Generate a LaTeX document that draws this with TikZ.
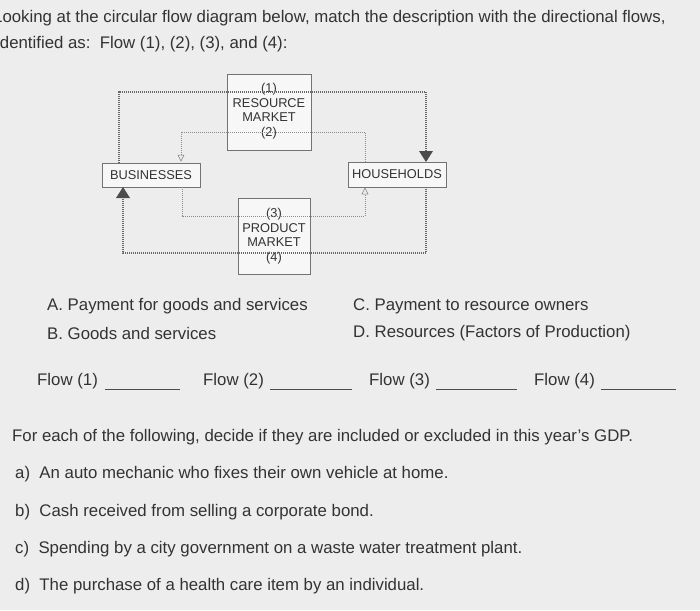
\documentclass[tikz,border=0pt]{standalone}
\usepackage{fontspec}
\setmainfont{Liberation Sans}
\usetikzlibrary{arrows.meta}
\begin{document}
\begin{tikzpicture}[x=1pt,y=-1pt,
  txt/.style={anchor=west,inner sep=0pt,text=black!80,font=\fontsize{16.8}{19}\selectfont},
  box/.style={draw=black!55,fill=black!3,inner sep=0pt,line width=0.6pt},
  lab/.style={font=\fontsize{12.8}{14.5}\selectfont,text=black!80,inner sep=0pt},
  outer/.style={draw=black!60,line width=1.2pt,dash pattern=on 1pt off 1pt},
  inner/.style={draw=black!45,line width=0.6pt,dash pattern=on 1pt off 1pt}]
\fill[black!7] (0,0) rectangle (700,610);
\useasboundingbox (0,0) rectangle (700,610);
\node[txt] (t1) at (-7,18) {Looking at the circular flow diagram below, match the description with the directional flows,};
\node[txt] (t2) at (-4,44) {identified as:\ \ Flow (1), (2), (3), and (4):};
% boxes
\node[box,minimum width=84,minimum height=76] (rm) at (269,112) {};
\node[lab,align=center] (rmt) at (269,111) {(1)\\RESOURCE\\MARKET\\(2)};
\node[box,minimum width=72,minimum height=76] (pm) at (274,236) {};
\node[lab,align=center] (pmt) at (274,236) {(3)\\PRODUCT\\MARKET\\(4)};
\node[box,minimum width=98,minimum height=24] (bus) at (151,175) {};
\node[lab] (bust) at (151,175) {BUSINESSES};
\node[box,minimum width=98,minimum height=25] (hh) at (397,174.5) {};
\node[lab] (hht) at (397,174.5) {HOUSEHOLDS};
\coordinate (o1) at (119,92); \coordinate (o2) at (426,92);
\coordinate (o3) at (123,253); \coordinate (o4) at (426,253);
\coordinate (i1) at (181,132); \coordinate (i2) at (365,132);
\coordinate (i3) at (182,216); \coordinate (i4) at (365,216);
\draw[outer] (bus.north -| o1) -- (o1) -- (o2) -- (hh.north -| o2);
\fill[black!70] (419,151) -- (433,151) -- (426,162) -- cycle;
\draw[outer] (hh.south -| o4) -- (o4) -- (o3) -- (123,197);
\fill[black!70] (116,198) -- (130,198) -- (123,187) -- cycle;
\draw[inner] (hh.north -| i2) -- (i2) -- (i1) -- (181,155);
\draw[black!50,line width=0.5pt] (178,155) -- (184,155) -- (181,161) -- cycle;
\draw[inner] (bus.south -| i3) -- (i3) -- (i4) -- (365,194);
\draw[black!50,line width=0.5pt] (362,194) -- (368,194) -- (365,188) -- cycle;
% descriptions
\node[txt] (a) at (47,306) {A. Payment for goods and services};
\node[txt] (b) at (47,333) {B. Goods and services};
\node[txt] (c) at (353,306) {C. Payment to resource owners};
\node[txt] (d) at (353,333) {D. Resources (Factors of Production)};
\node[txt] (f1) at (37,381) {Flow (1)};
\node[txt] (f2) at (203,381) {Flow (2)};
\node[txt] (f3) at (369,381) {Flow (3)};
\node[txt] (f4) at (534,381) {Flow (4)};
\draw[black!70,line width=0.6pt] (105,389) -- (180,389) (270,389) -- (352,389) (436,389) -- (517,389) (601,389) -- (676,389);
\node[txt] (q) at (12,437) {For each of the following, decide if they are included or excluded in this year's GDP.};
\node[txt] (qa) at (15,474) {a)\ \ An auto mechanic who fixes their own vehicle at home.};
\node[txt] (qb) at (15,512) {b)\ \ Cash received from selling a corporate bond.};
\node[txt] (qc) at (15,549) {c)\ \ Spending by a city government on a waste water treatment plant.};
\node[txt] (qd) at (15,586) {d)\ \ The purchase of a health care item by an individual.};
\end{tikzpicture}
\end{document}
